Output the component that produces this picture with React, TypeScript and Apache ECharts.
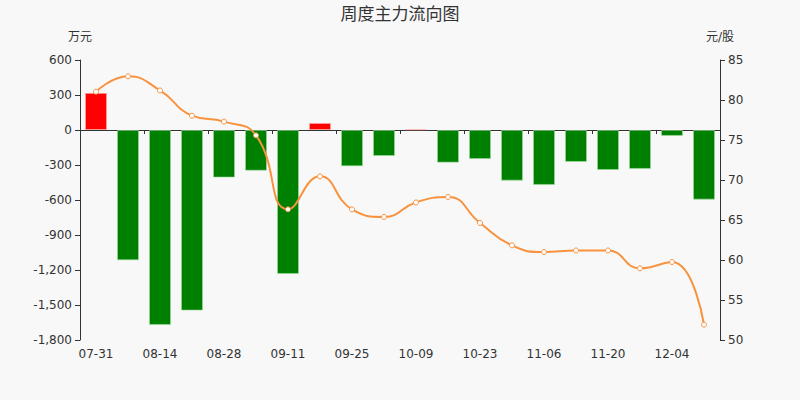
import React, { useEffect, useRef } from "react";
import * as echarts from "echarts";

const categories = [
  "07-31", "08-07", "08-14", "08-21", "08-28", "09-04", "09-11", "09-18", "09-25", "10-02",
  "10-09", "10-16", "10-23", "10-30", "11-06", "11-13", "11-20", "11-27", "12-04", "12-11",
];
const flowValues = [
  318, -1117, -1671, -1548, -408, -349, -1234, 60, -311, -223,
  6, -280, -249, -434, -471, -274, -343, -334, -51, -597,
];
const priceValues = [
  81.04, 82.96, 81.2, 78.04, 77.3, 75.58, 66.33, 70.46, 66.33, 65.38,
  67.2, 67.88, 64.63, 61.83, 61.0, 61.2, 61.2, 58.96, 59.75, 51.92,
];
const leftTicks = { min: -1800, max: 600, interval: 300 };
const rightTicks = { min: 50, max: 85, interval: 5 };

export default function App() {
  const ref = useRef<HTMLDivElement>(null);
  useEffect(() => {
    if (!ref.current) return;
    const chart = echarts.init(ref.current, null, { renderer: "svg" });
    const textColor = "#333";
    const font = "'DejaVu Sans', 'Noto Sans CJK SC', sans-serif";
    chart.setOption({
      animation: false,
      backgroundColor: "#f8f8f8",
      textStyle: { fontFamily: font },
      title: {
        text: "周度主力流向图",
        left: "center",
        top: 0,
        textStyle: {
          fontSize: 17,
          fontWeight: "normal",
          color: textColor,
          fontFamily: font,
        },
      },
      grid: { left: 80, right: 80, top: 60, bottom: 60 },
      xAxis: [
        {
          type: "category",
          data: categories,
          position: "bottom",
          axisLine: { show: false, onZero: false },
          axisTick: { show: false },
          axisLabel: { interval: 1, color: textColor, fontSize: 12, margin: 8, fontFamily: font },
          splitLine: { show: false },
        },
        {
          type: "category",
          data: categories,
          position: "bottom",
          axisLine: { show: true, onZero: true, lineStyle: { color: "#333" } },
          axisTick: { show: true, interval: 1, length: 4, lineStyle: { color: "#333" } },
          axisLabel: { show: false },
          splitLine: { show: false },
        },
      ],
      yAxis: [
        {
          type: "value",
          name: "万元",
          nameGap: 17,
          nameTextStyle: { color: textColor, fontSize: 12, fontFamily: font },
          min: leftTicks.min,
          max: leftTicks.max,
          interval: leftTicks.interval,
          axisLine: { show: true, lineStyle: { color: "#333" } },
          axisTick: { show: true, length: 5, lineStyle: { color: "#333" } },
          axisLabel: {
            color: textColor,
            fontSize: 12,
            fontFamily: font,
            formatter: (v: number) => v.toLocaleString("en-US"),
          },
          splitLine: { show: false },
        },
        {
          type: "value",
          name: "元/股",
          nameGap: 17,
          nameTextStyle: { color: textColor, fontSize: 12, fontFamily: font },
          min: rightTicks.min,
          max: rightTicks.max,
          interval: rightTicks.interval,
          axisLine: { show: true, lineStyle: { color: "#333" } },
          axisTick: { show: true, length: 5, lineStyle: { color: "#333" } },
          axisLabel: { color: textColor, fontSize: 12, fontFamily: font },
          splitLine: { show: false },
        },
      ],
      series: [
        {
          type: "bar",
          xAxisIndex: 0,
          yAxisIndex: 0,
          barWidth: 22,
          data: flowValues.map((v) => ({
            value: v,
            itemStyle: {
              color: v >= 0 ? "#ff0000" : "#008000",
              borderColor: v >= 0 ? "rgba(255,170,170,0.6)" : "rgba(160,220,160,0.6)",
              borderWidth: 1,
            },
          })),
        },
        {
          type: "line",
          xAxisIndex: 0,
          yAxisIndex: 1,
          smooth: true,
          data: priceValues,
          symbol: "circle",
          symbolSize: 5,
          showSymbol: true,
          lineStyle: { color: "#f7933f", width: 2 },
          itemStyle: { color: "#ffffff", borderColor: "#f7933f", borderWidth: 1 },
        },
      ],
    });
    return () => chart.dispose();
  }, []);
  return <div ref={ref} style={{ width: 800, height: 400, position: "absolute", left: 0, top: 0 }} />;
}
